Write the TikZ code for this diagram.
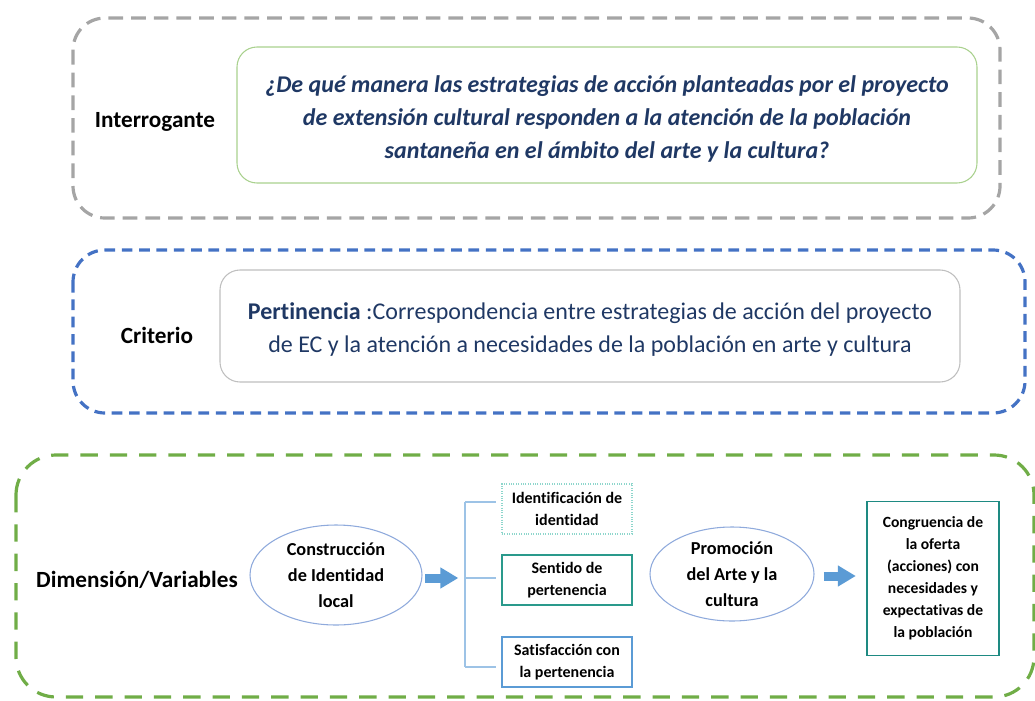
\documentclass[tikz,border=0pt]{standalone}
\usepackage{fontspec}
\setmainfont{Carlito}[Ligatures=NoCommon]
\usetikzlibrary{arrows.meta,shapes.geometric}
\definecolor{navy}{HTML}{1F3864}
\definecolor{framegray}{HTML}{A5A5A5}
\definecolor{frameblue}{HTML}{4472C4}
\definecolor{framegreen}{HTML}{70AD47}
\definecolor{qgreen}{HTML}{A9D18E}
\definecolor{cgray}{HTML}{BFBFBF}
\definecolor{ellblue}{HTML}{8FAADC}
\definecolor{brblue}{HTML}{9DC3E6}
\definecolor{arrblue}{HTML}{5B9BD5}
\definecolor{lteal}{HTML}{8ED6CC}
\definecolor{teal}{HTML}{2A9A8C}
\definecolor{dteal}{HTML}{1E8A82}
\tikzset{
  framebox/.style={line width=2.4pt, rounded corners=24pt},
  innerbox/.style={draw, line width=0.8pt, rounded corners=15pt, inner sep=0pt},
  lbl/.style={font=\fontsize{17.4}{20}\selectfont\bfseries},
  ellnode/.style={ellipse, draw=ellblue, line width=0.8pt, align=center, inner sep=0pt,
     font=\fontsize{13.7}{19.5}\selectfont\bfseries},
  smallbox/.style={draw, line width=0.8pt, align=center, inner sep=0pt,
     minimum width=97.5pt, minimum height=37.5pt, font=\fontsize{12}{16}\selectfont\bfseries},
  blockarrow/.style={line width=6.75pt, arrblue, -{Triangle[length=13.5pt,width=15pt]}},
  brline/.style={brblue, line width=0.9pt}
}
\begin{document}
\begin{tikzpicture}[x=0.75pt,y=-0.75pt]
\useasboundingbox (0,0) rectangle (1035,700);
% frames
\draw[framebox, framegray, dash pattern=on 11pt off 6pt] (73,18) rectangle (1000,218);
\draw[framebox, frameblue, dash pattern=on 8pt off 5pt] (73,250) rectangle (1025,413);
\draw[framebox, framegreen, dash pattern=on 13pt off 9pt, rounded corners=30pt] (16,455) rectangle (1034,697);
% Interrogante
\node[lbl] (lint) at (155,122) {Interrogante};
\node[innerbox, draw=qgreen, minimum width=555pt, minimum height=102pt] (q) at (607,115) {};
\node[align=center, text=navy, font=\fontsize{18}{24.75}\selectfont\bfseries\itshape] (qt) at (607,119)
  {¿De qué manera las estrategias de acción planteadas por el proyecto\\
   de extensión cultural responden a la atención de la población\\
   santaneña en el ámbito del arte y la cultura?};
% Criterio
\node[lbl] (lcrit) at (157,335) {Criterio};
\node[innerbox, draw=cgray, minimum width=555pt, minimum height=84pt] (c) at (590,326) {};
\node[align=center, text=navy, font=\fontsize{18}{24.75}\selectfont] (ct) at (590,330)
  {\textbf{Pertinencia} :Correspondencia entre estrategias de acción del proyecto\\
   de EC y la atención a necesidades de la población en arte y cultura};
% Dimension
\node[lbl] (ldim) at (137,580) {Dimensión/Variables};
\node[ellnode, minimum width=129pt, minimum height=75pt] (e1) at (336,575)
  {Construcción\\de Identidad\\local};
\coordinate (bt) at (465,502);
\coordinate (bm) at (465,578);
\coordinate (bb) at (465,667);
\draw[blockarrow] ([xshift=2pt]e1.east |- bm) -- ([xshift=-5pt]bm);
\node[smallbox, draw=lteal, densely dotted] (s1) at (567,509) {Identificación de\\identidad};
\node[smallbox, draw=teal] (s2) at (567,580) {Sentido de\\pertenencia};
\node[smallbox, draw=arrblue] (s3) at (567,662) {Satisfacción con\\la pertenencia};
\draw[brline] (bt) -- (bb);
\draw[brline] (bt) -- ([xshift=-4pt]s1.west |- bt);
\draw[brline] (bm) -- ([xshift=-4pt]s2.west |- bm);
\draw[brline] (bb) -- ([xshift=-4pt]s3.west |- bb);
\node[ellnode, minimum width=123pt, minimum height=70.5pt] (e2) at (732,574)
  {Promoción\\del Arte y la\\cultura};
\node[draw=dteal, line width=0.8pt, align=center, inner sep=0pt, minimum width=99pt,
  minimum height=116pt, font=\fontsize{11.7}{16.5}\selectfont\bfseries] (r) at (933,578.5)
  {Congruencia de\\la oferta\\(acciones) con\\necesidades y\\expectativas de\\la población};
\draw[blockarrow] ([xshift=7pt]e2.east |- 0,576) -- ([xshift=-8pt]r.west |- 0,576);
\end{tikzpicture}
\end{document}
